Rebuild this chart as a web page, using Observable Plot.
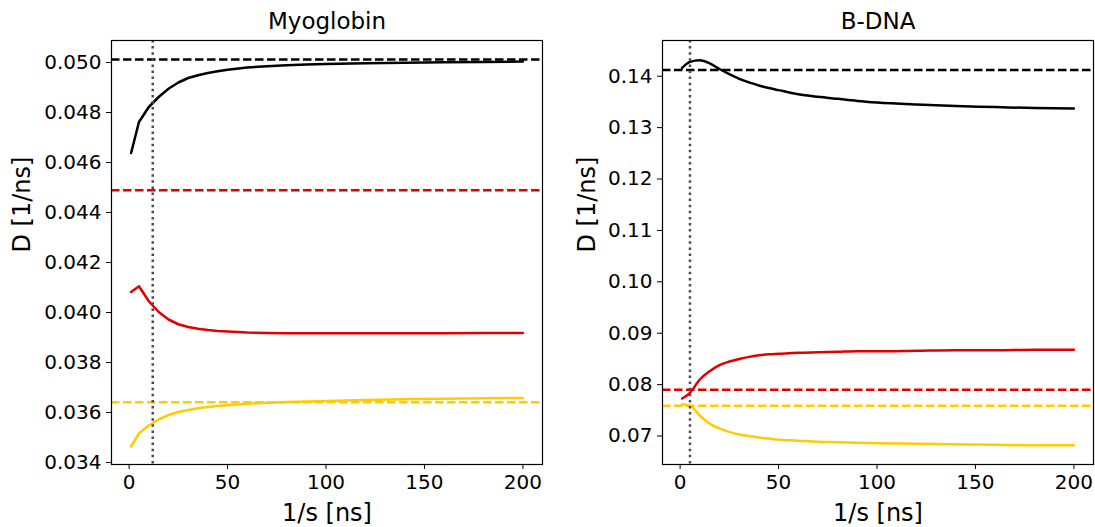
<!DOCTYPE html>
<html><head><meta charset="utf-8">
<script src="https://cdn.jsdelivr.net/npm/d3@7"></script>
<script src="https://cdn.jsdelivr.net/npm/@observablehq/plot@0.6"></script>
<style>
html,body{margin:0;padding:0;background:#fff;}
#wrap{position:relative;width:1095px;height:527px;overflow:hidden;}
#left{position:absolute;left:0;top:0;}
#right{position:absolute;left:547px;top:0;}
</style></head><body><div id="wrap"><div id="left"></div><div id="right"></div></div>
<script>
// 1/s [ns] sampling
const sValues = [1,5,10,15,20,25,30,35,40,45,50,60,70,80,90,100,120,140,160,180,200];
const xTicks = [0,50,100,150,200];

// Myoglobin
const myoBlack  = [0.04638,0.04762,0.04822,0.04862,0.04895,0.04920,0.04938,0.04949,0.04958,0.04965,0.04971,0.04980,0.04985,0.04989,0.04992,0.04994,0.04997,0.04999,0.05001,0.05002,0.05004];
const myoRed    = [0.04082,0.04105,0.04045,0.04002,0.03972,0.03953,0.03942,0.03935,0.03930,0.03926,0.03924,0.03920,0.03918,0.03917,0.03917,0.03917,0.03917,0.03917,0.03917,0.03918,0.03918];
const myoYellow = [0.03464,0.03517,0.03548,0.03572,0.03590,0.03602,0.03610,0.03617,0.03622,0.03626,0.03629,0.03635,0.03639,0.03642,0.03644,0.03646,0.03650,0.03653,0.03655,0.03657,0.03658];
const myoRefs   = [0.05012,0.04489,0.03641]; // black, red, yellow dashed
const myoVline  = 12;
const myoYTicks = [0.034,0.036,0.038,0.040,0.042,0.044,0.046,0.048,0.050];

// B-DNA
const dnaBlack  = [0.1416,0.1428,0.1431,0.1425,0.1414,0.1404,0.1395,0.1388,0.1382,0.1377,0.1373,0.1365,0.1360,0.1356,0.1352,0.1349,0.1345,0.1342,0.1340,0.1338,0.1337];
const dnaRed    = [0.0773,0.0784,0.0810,0.0826,0.0838,0.0845,0.0850,0.0854,0.0857,0.0859,0.0860,0.0862,0.0863,0.0864,0.0865,0.0865,0.0866,0.0867,0.0867,0.0868,0.0868];
const dnaYellow = [0.0762,0.0759,0.0740,0.0724,0.0715,0.0708,0.0703,0.0700,0.0697,0.0695,0.0693,0.0691,0.0689,0.0688,0.0687,0.0686,0.0685,0.0684,0.0683,0.0682,0.0682];
const dnaRefs   = [0.1412,0.0790,0.0759];
const dnaVline  = 5;
const dnaYTicks = [0.07,0.08,0.09,0.10,0.11,0.12,0.13,0.14];

const seriesColors = ["#000000","#e00000","#ffcc00"];

function panel({title, width, marginLeft, marginRight, yDomain, yTicks, fmt, curves, refs, vline, ylabelDx, curve}) {
  const marks = [];
  curves.forEach((vals, i) => {
    const rows = sValues.map((s, j) => ({s, d: vals[j]}));
    marks.push(Plot.line(rows, {x: "s", y: "d", stroke: seriesColors[i], strokeWidth: 2.5, curve}));
  });
  refs.forEach((v, i) => {
    marks.push(Plot.ruleY([v], {stroke: seriesColors[i], strokeWidth: 2.5, strokeDasharray: "8.5,3.5"}));
  });
  marks.push(Plot.ruleX([vline], {stroke: "#4a4a5a", strokeWidth: 2.5, strokeDasharray: "2.5,3.6"}));
  marks.push(Plot.frame({stroke: "black", strokeWidth: 1.2}));
  marks.push(Plot.axisX({ticks: xTicks, tickSize: 5, tickPadding: 5, fontSize: 20, label: null, stroke: "black"}));
  marks.push(Plot.axisY({ticks: yTicks, tickSize: 5, tickPadding: 5, fontSize: 20, label: null, tickFormat: d3.format(fmt)}));
  marks.push(Plot.text([title], {text: d => d, frameAnchor: "top", lineAnchor: "bottom", dy: -12, fontSize: 23, fill: "black"}));
  marks.push(Plot.text(["1/s [ns]"], {text: d => d, frameAnchor: "bottom", lineAnchor: "bottom", dy: 56, fontSize: 24, fill: "black"}));
  marks.push(Plot.text(["D [1/ns]"], {text: d => d, frameAnchor: "left", lineAnchor: "bottom", rotate: -90, dx: ylabelDx, fontSize: 24, fill: "black"}));
  return Plot.plot({
    width, height: 527,
    marginTop: 40, marginBottom: 63, marginLeft, marginRight,
    x: {domain: [-8.95, 209.95]},
    y: {domain: yDomain},
    style: {fontFamily: "DejaVu Sans", background: "white", color: "black", overflow: "visible"},
    marks
  });
}

document.getElementById("left").append(panel({
  title: "Myoglobin", width: 547, marginLeft: 111, marginRight: 5,
  yDomain: [0.03392, 0.05088], yTicks: myoYTicks, fmt: ".3f",
  curves: [myoBlack, myoRed, myoYellow], refs: myoRefs, vline: myoVline, ylabelDx: -82, curve: "linear"
}));
document.getElementById("right").append(panel({
  title: "B-DNA", width: 548, marginLeft: 115, marginRight: 2,
  yDomain: [0.06446, 0.14695], yTicks: dnaYTicks, fmt: ".2f",
  curves: [dnaBlack, dnaRed, dnaYellow], refs: dnaRefs, vline: dnaVline, ylabelDx: -68, curve: "monotone-x"
}));
</script>
</body></html>
